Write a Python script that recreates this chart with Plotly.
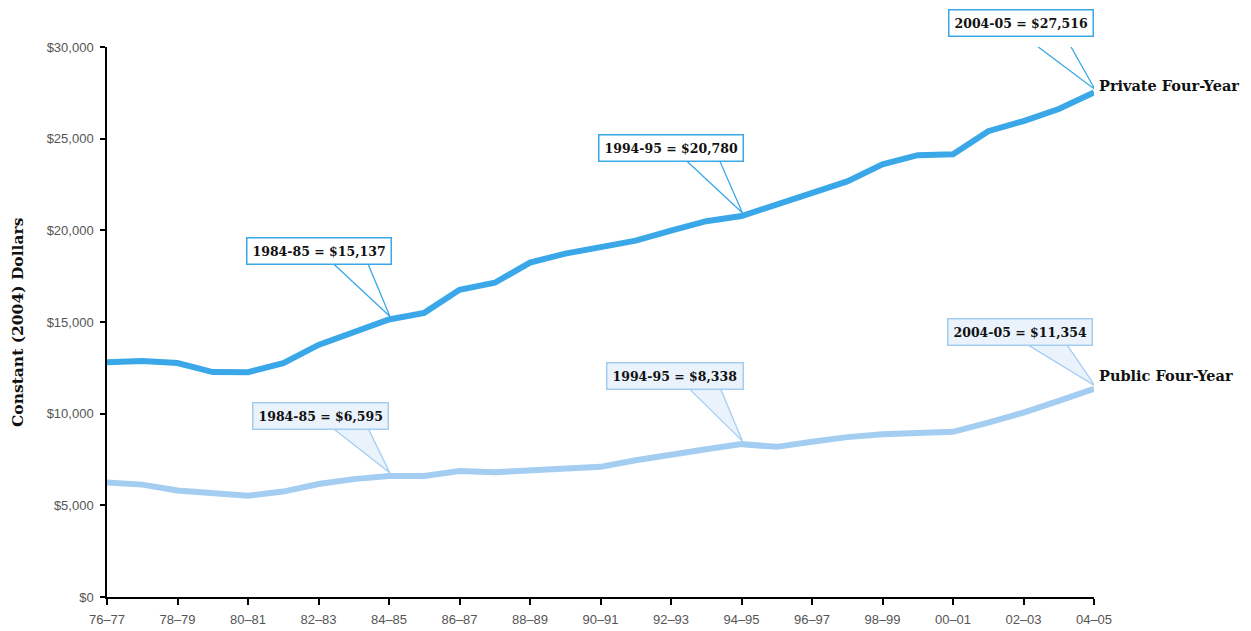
import plotly.graph_objects as go

# ---------------- data ----------------
years = ["76–77", "77–78", "78–79", "79–80", "80–81", "81–82", "82–83", "83–84",
         "84–85", "85–86", "86–87", "87–88", "88–89", "89–90", "90–91", "91–92",
         "92–93", "93–94", "94–95", "95–96", "96–97", "97–98", "98–99", "99–00",
         "00–01", "01–02", "02–03", "03–04", "04–05"]

private_four_year = [12810, 12870, 12760, 12270, 12260, 12760, 13750, 14460, 15137,
                     15500, 16760, 17140, 18240, 18730, 19110, 19440, 19990, 20500,
                     20780, 21410, 21960, 22670, 23600, 24100, 24150, 25410, 25960,
                     26620, 27516]

public_four_year = [6240, 6130, 5810, 5640, 5530, 5750, 6160, 6430, 6595,
                    6600, 6870, 6810, 6920, 6980, 7100, 7460, 7790, 8060,
                    8338, 8190, 8470, 8720, 8880, 8960, 9010, 9510, 10060,
                    10700, 11354]

series_names = ["Private Four-Year", "Public Four-Year"]

callout_years = ["1984-85", "1994-95", "2004-05"]
callout_index = [8, 18, 28]

y_tick_values = [0, 5000, 10000, 15000, 20000, 25000, 30000]
y_tick_labels = [f"${v:,}" for v in y_tick_values]

# ---------------- styles ----------------
PRIVATE_COLOR = "#3AA8E8"
PUBLIC_COLOR = "#A4CDF2"
PUBLIC_FILL = "#EAF3FC"
TICK_FONT = dict(family="Liberation Sans, Arial, sans-serif", size=13, color="#555555")
SERIF_BOLD = "DejaVu Serif, serif"

# per-callout layout (pixels relative to the point): box centre dx, box bottom dy, wedge base x0/x1
private_layout = [(-70, 54, -58, -22), (-71, 54, -58, -23), (-73, 56, -75, -31)]
public_layout = [(-69, 46, -59, -22), (-67, 54, -55, -22), (-74, 43, -71, -29)]

x_idx = list(range(len(years)))

fig = go.Figure()
fig.add_trace(go.Scatter(x=x_idx, y=private_four_year, mode="lines",
                         line=dict(color=PRIVATE_COLOR, width=6), name=series_names[0],
                         hoverinfo="skip"))
fig.add_trace(go.Scatter(x=x_idx, y=public_four_year, mode="lines",
                         line=dict(color=PUBLIC_COLOR, width=6), name=series_names[1],
                         hoverinfo="skip"))

annotations = []
shapes = []


def add_callouts(values, layouts, border, fill, wedge_fill):
    for yr, i, (dx, dy, b0, b1) in zip(callout_years, callout_index, layouts):
        txt = f"<b>{yr} = ${values[i]:,}</b>"
        shapes.append(dict(
            type="path", xref="x", yref="y", xsizemode="pixel", ysizemode="pixel",
            xanchor=x_idx[i], yanchor=values[i],
            path=f"M {b0},{dy + 4} L 1,3 L {b1},{dy + 4} Z",
            line=dict(color=border, width=1.3), fillcolor=wedge_fill, layer="below"))
        annotations.append(dict(
            x=x_idx[i], y=values[i], xref="x", yref="y", text=txt, showarrow=False,
            xanchor="center", yanchor="bottom", xshift=dx, yshift=dy,
            bgcolor=fill, bordercolor=border, borderwidth=1.5, borderpad=5,
            font=dict(family=SERIF_BOLD, size=12.5, color="#111111")))


add_callouts(private_four_year, private_layout, PRIVATE_COLOR, "white", "white")
add_callouts(public_four_year, public_layout, PUBLIC_COLOR, PUBLIC_FILL, PUBLIC_FILL)

# series end labels
annotations.append(dict(x=x_idx[-1], y=private_four_year[-1], xref="x", yref="y",
                        text="<b>" + series_names[0] + "</b>", showarrow=False,
                        xanchor="left", yanchor="middle", xshift=3, yshift=7,
                        font=dict(family=SERIF_BOLD, size=14.5, color="#111111")))
annotations.append(dict(x=x_idx[-1], y=public_four_year[-1], xref="x", yref="y",
                        text="<b>" + series_names[1] + "</b>", showarrow=False,
                        xanchor="left", yanchor="middle", xshift=3, yshift=13,
                        font=dict(family=SERIF_BOLD, size=14.5, color="#111111")))

# y-axis title
annotations.append(dict(x=0, y=0.5, xref="paper", yref="paper",
                        text="<b>Constant (2004) Dollars</b>", showarrow=False,
                        textangle=-90, xanchor="center", yanchor="middle", xshift=-90,
                        font=dict(family=SERIF_BOLD, size=15.5, color="#111111")))

fig.update_layout(
    width=1251, height=631,
    margin=dict(l=107, r=157, t=47, b=34, autoexpand=False),
    paper_bgcolor="white", plot_bgcolor="white",
    showlegend=False,
    annotations=annotations, shapes=shapes,
    xaxis=dict(range=[0, len(years) - 1], tickmode="array",
               tickvals=x_idx[::2], ticktext=years[::2], automargin=False,
               showgrid=False, zeroline=False, showline=True, linecolor="black", linewidth=1.5,
               ticks="outside", ticklen=6, tickwidth=1.5, tickcolor="black",
               ticklabelstandoff=4, tickfont=TICK_FONT),
    yaxis=dict(range=[0, 30000], tickmode="array", tickvals=y_tick_values,
               ticktext=y_tick_labels, automargin=False,
               showgrid=False, zeroline=False, showline=True, linecolor="black", linewidth=1.5,
               ticks="outside", ticklen=5, tickwidth=1.5, tickcolor="black",
               ticklabelstandoff=4, tickfont=TICK_FONT),
)

fig.write_html("out.html")
